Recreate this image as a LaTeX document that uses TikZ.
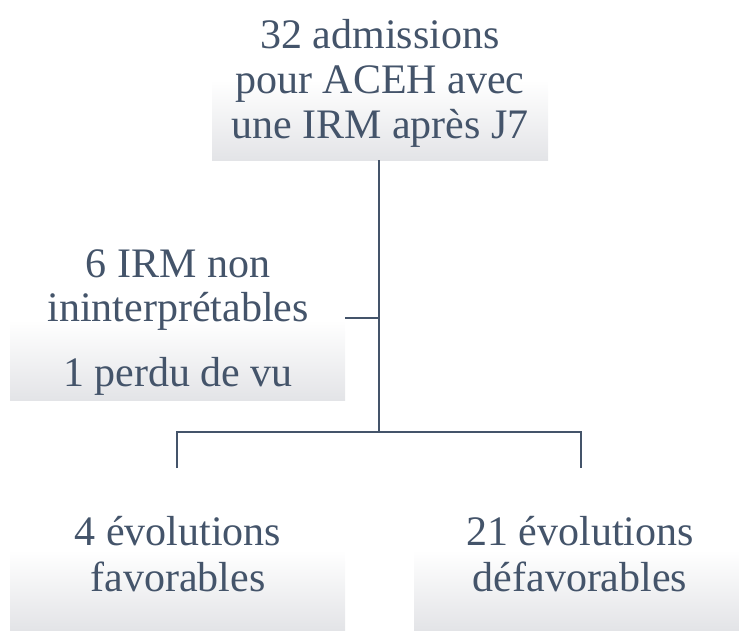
\documentclass[tikz,border=0pt]{standalone}
\usepackage{fontspec}
\setmainfont{Liberation Serif}
\definecolor{txt}{HTML}{44546A}
\definecolor{boxbot}{HTML}{E3E4E7}
\begin{document}
\begin{tikzpicture}[x=1pt,y=-1pt,
  gbox/.style={top color=white,bottom color=boxbot,middle color=white,draw=none},
  lbl/.style={anchor=base,text=txt,font=\fontsize{42}{46}\selectfont,inner sep=0pt},
  conn/.style={draw=txt,line width=2.8pt}]
\useasboundingbox (0,0) rectangle (739,630);
% boxes
\shade[gbox] (212,0) rectangle (548,160);
\shade[gbox] (10,240) rectangle (345,400);
\shade[gbox] (10,470) rectangle (345,630);
\shade[gbox] (414,470) rectangle (739,630);
% texts
\node[lbl] (t1) at (380,48) {32 admissions};
\node[lbl] (t2) at (380,93) {pour ACEH avec};
\node[lbl] (t3) at (380,138) {une IRM après J7};
\node[lbl] (l1) at (178,277) {6 IRM non};
\node[lbl] (l2) at (178,321) {ininterprétables};
\node[lbl] (l3) at (178,386) {1 perdu de vu};
\node[lbl] (b1) at (178,545) {4 évolutions};
\node[lbl] (b2) at (178,591) {favorables};
\node[lbl] (r1) at (580,545) {21 évolutions};
\node[lbl] (r2) at (580,591) {défavorables};
% connectors
\coordinate (top) at (379,160);
\coordinate (mid) at (379,318);
\coordinate (side) at (345,318);
\coordinate (junc) at (379,432);
\coordinate (jl) at (177,432);
\coordinate (jr) at (581,432);
\coordinate (el) at (177,468);
\coordinate (er) at (581,468);
\draw[conn] (top) -- (junc);
\draw[conn] (side) -- (mid);
\draw[conn] (el) -- (jl) -- (jr) -- (er);
\end{tikzpicture}
\end{document}
